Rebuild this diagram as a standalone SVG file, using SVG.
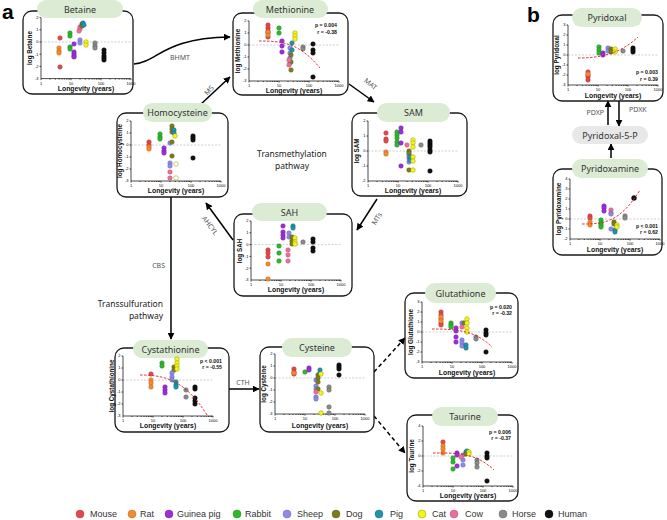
<svg xmlns="http://www.w3.org/2000/svg" xmlns:xlink="http://www.w3.org/1999/xlink" width="667" height="520" viewBox="0 0 667 520">
<style>
.box{fill:#fff;stroke:#1a1a1a;stroke-width:1.3}
.pill{fill:#dcebd4}
.pill5{fill:#e8e8e8}
.pt{font-family:"Noto Sans","Open Sans",sans-serif;font-size:9px;fill:#333;text-anchor:middle}
.ax{stroke:#000;stroke-width:0.7;fill:none}
.zl{stroke:#b0b0b0;stroke-width:0.6;stroke-dasharray:2,1.5;fill:none}
.tk{font-family:"Liberation Sans",Arial,sans-serif;font-size:4px;text-anchor:end;fill:#000}
.xt{font-family:"Liberation Sans",Arial,sans-serif;font-size:4px;text-anchor:middle;fill:#000}
.yl{font-family:"Liberation Sans",Arial,sans-serif;font-weight:bold;font-size:6.3px;text-anchor:middle;fill:#111}
.xl{font-family:"Liberation Sans",Arial,sans-serif;font-weight:bold;font-size:6.8px;text-anchor:middle;fill:#111}
.st{font-family:"Liberation Sans",Arial,sans-serif;font-weight:bold;font-size:5.2px;text-anchor:end;fill:#111}
.fit{stroke:#e02020;stroke-width:0.9;stroke-dasharray:2.5,1.5;fill:none}
.cn{stroke:#000;stroke-width:1.5;fill:none}
.dn{stroke:#000;stroke-width:1.5;fill:none;stroke-dasharray:4,3}
.el{font-family:"Noto Sans","Open Sans",sans-serif;font-size:7px;fill:#555}
.pw{font-family:"Noto Sans","Open Sans",sans-serif;font-size:8.5px;fill:#222}
.lg{font-family:"Liberation Sans",Arial,sans-serif;font-size:9px;fill:#333}
.big{font-family:"Liberation Sans",Arial,sans-serif;font-size:21px;font-weight:bold;fill:#000}
.mo{fill:#e04a4e;stroke:#a83030;stroke-width:0.4}
.ra{fill:#f28a2e;stroke:#b0601a;stroke-width:0.4}
.gp{fill:#9b30d9;stroke:#6a1a9a;stroke-width:0.4}
.rb{fill:#2db82d;stroke:#1a7a1a;stroke-width:0.4}
.sh{fill:#8c8ce6;stroke:#5a5ab0;stroke-width:0.4}
.dg{fill:#7d7d1e;stroke:#555510;stroke-width:0.4}
.pg{fill:#1e95a8;stroke:#126070;stroke-width:0.4}
.ct{fill:#f5f51a;stroke:#9a9a00;stroke-width:0.5}
.co{fill:#e8719a;stroke:#b04a6a;stroke-width:0.4}
.hs{fill:#8a8a8a;stroke:#555;stroke-width:0.4}
.hu{fill:#111;stroke:#000;stroke-width:0.4}
</style>
<defs>
<marker id="ah" viewBox="0 0 10 10" refX="9" refY="5" markerWidth="7" markerHeight="7" markerUnits="userSpaceOnUse" orient="auto"><path d="M0,0L10,5L0,10z" fill="#000"/></marker>
<g id="xax">
<path class="ax" d="M0,0H90M0,0v1.6M30,0v1.6M60,0v1.6M90,0v1.6"/>
<path class="ax" stroke-width="0.5" d="M9,0v1M14.3,0v1M18.1,0v1M21,0v1M23.3,0v1M25.4,0v1M27.1,0v1M28.6,0v1M39,0v1M44.3,0v1M48.1,0v1M51,0v1M53.3,0v1M55.4,0v1M57.1,0v1M58.6,0v1M69,0v1M74.3,0v1M78.1,0v1M81,0v1M83.3,0v1M85.4,0v1M87.1,0v1M88.6,0v1"/>
<text class="xt" x="0" y="6">1</text><text class="xt" x="30" y="6">10</text><text class="xt" x="60" y="6">100</text><text class="xt" x="90" y="6">1000</text>
</g>
</defs>
<rect width="667" height="520" fill="#fff"/>
<text class="big" x="2" y="19">a</text>
<text class="big" x="527" y="22">b</text>

<g id="connectors">
<path class="cn" d="M134,64 C158,62 163,38 230,37" marker-end="url(#ah)"/>
<text class="el" x="180" y="60" text-anchor="middle">BHMT</text>
<path class="cn" d="M200,105 L230,77" marker-end="url(#ah)"/>
<text class="el" transform="translate(211,92) rotate(-48)" text-anchor="middle">MS</text>
<path class="cn" d="M349,84 L374,102" marker-end="url(#ah)"/>
<text class="el" transform="translate(369,86) rotate(38)" text-anchor="middle">MAT</text>
<path class="cn" d="M377,199 L357,230" marker-end="url(#ah)"/>
<text class="el" transform="translate(379,220) rotate(-58)" text-anchor="middle">MTs</text>
<path class="cn" d="M233,240 L206,203" marker-end="url(#ah)"/>
<text class="el" transform="translate(208,227) rotate(54)" text-anchor="middle">AHCYL</text>
<path class="cn" d="M171,197 L171,339" marker-end="url(#ah)"/>
<text class="el" x="165" y="268" text-anchor="end">CBS</text>
<path class="cn" d="M229,389 L259,389" marker-end="url(#ah)"/>
<text class="el" x="243" y="385" text-anchor="middle">CTH</text>
<path class="dn" d="M374,372 L405,338" marker-end="url(#ah)"/>
<path class="dn" d="M374,416 L405,453" marker-end="url(#ah)"/>
<path class="cn" d="M608,125 L608,101" marker-end="url(#ah)"/>
<path class="cn" d="M619,101 L619,126" marker-end="url(#ah)"/>
<text class="el" x="604" y="115" text-anchor="end">PDXP</text>
<text class="el" x="629" y="112">PDXK</text>
<path class="cn" d="M611,158 L611,144" marker-end="url(#ah)"/>
<text class="pw" x="292" y="157" text-anchor="middle">Transmethylation</text>
<text class="pw" x="292" y="169" text-anchor="middle">pathway</text>
<text class="pw" x="163" y="307" text-anchor="end">Transsulfuration</text>
<text class="pw" x="163" y="319" text-anchor="end">pathway</text>
</g>

<g id="betaine">
<rect class="box" x="23" y="11" width="110" height="83" rx="9"/>
<rect class="pill" x="37" y="0" width="86" height="18" rx="9"/>
<text class="pt" x="80" y="12.5">Betaine</text>
<path class="zl" d="M41,42H131"/>
<path class="ax" d="M41,17.6V78.6M39.5,17.6H41M39.5,29.8H41M39.5,42H41M39.5,54.2H41M39.5,66.4H41"/>
<text class="tk" x="38.5" y="19">2</text><text class="tk" x="38.5" y="31.2">1</text><text class="tk" x="38.5" y="43.4">0</text><text class="tk" x="38.5" y="55.6">-1</text><text class="tk" x="38.5" y="67.8">-2</text><text class="tk" x="38.5" y="80">-3</text>
<use xlink:href="#xax" x="41" y="78.6"/>
<text class="xl" x="86" y="91">Longevity (years)</text>
<text class="yl" transform="translate(32,48) rotate(-90)">log Betaine</text>
<circle class="mo" cx="60" cy="38" r="2.3"/><circle class="mo" cx="60" cy="67" r="2.3"/>
<circle class="ra" cx="59" cy="48" r="2.3"/><circle class="ra" cx="59" cy="51" r="2.3"/><circle class="ra" cx="59" cy="53" r="2.3"/>
<circle class="rb" cx="70" cy="33" r="2.3"/><circle class="rb" cx="70" cy="36" r="2.3"/><circle class="rb" cx="70" cy="47" r="2.3"/><circle class="rb" cx="70" cy="49" r="2.3"/>
<circle class="gp" cx="74" cy="44" r="2.3"/><circle class="gp" cx="74" cy="52" r="2.3"/><circle class="gp" cx="74" cy="54" r="2.3"/><circle class="gp" cx="74" cy="56" r="2.3"/><circle class="gp" cx="74" cy="57" r="2.3"/>
<circle class="co" cx="80" cy="27" r="2.3"/><circle class="co" cx="80" cy="29" r="2.3"/><circle class="co" cx="79" cy="31" r="2.3"/>
<circle class="dg" cx="82" cy="24" r="2.3"/><circle class="dg" cx="82" cy="26" r="2.3"/>
<circle class="pg" cx="83" cy="23" r="2.3"/><circle class="pg" cx="84" cy="25" r="2.3"/>
<circle class="sh" cx="80" cy="40" r="2.3"/><circle class="sh" cx="80" cy="43" r="2.3"/>
<circle class="ct" cx="86" cy="42" r="2.3"/><circle class="ct" cx="86" cy="45" r="2.3"/>
<circle class="hs" cx="95" cy="43" r="2.3"/><circle class="hs" cx="95" cy="46" r="2.3"/><circle class="hs" cx="95" cy="48" r="2.3"/>
<circle class="hu" cx="104" cy="50" r="2.3"/><circle class="hu" cx="104" cy="53" r="2.3"/><circle class="hu" cx="104" cy="56" r="2.3"/><circle class="hu" cx="104" cy="58" r="2.3"/><circle class="hu" cx="104" cy="60" r="2.3"/>
</g>

<g id="methionine">
<rect class="box" x="233" y="13" width="115" height="82" rx="9"/>
<rect class="pill" x="253" y="0" width="75" height="18" rx="9"/>
<text class="pt" x="290" y="12.5">Methionine</text>
<path class="zl" d="M249,45H339"/>
<path class="ax" d="M249,21V81M247.5,21H249M247.5,33H249M247.5,45H249M247.5,57H249M247.5,69H249"/>
<text class="tk" x="246.5" y="22.4">2</text><text class="tk" x="246.5" y="34.4">1</text><text class="tk" x="246.5" y="46.4">0</text><text class="tk" x="246.5" y="58.4">-1</text><text class="tk" x="246.5" y="70.4">-2</text><text class="tk" x="246.5" y="82.4">-3</text>
<use xlink:href="#xax" x="249" y="81"/>
<text class="xl" x="294" y="93">Longevity (years)</text>
<text class="yl" transform="translate(240,51) rotate(-90)">log Methionine</text>
<text class="st" x="337" y="27">p = 0.004</text><text class="st" x="337" y="34">r = -0.38</text>
<circle class="mo" cx="268" cy="25" r="2.3"/><circle class="mo" cx="268" cy="28" r="2.3"/><circle class="mo" cx="268" cy="31" r="2.3"/><circle class="mo" cx="268" cy="33" r="2.3"/><circle class="mo" cx="268" cy="37" r="2.3"/>
<circle class="ra" cx="268" cy="32" r="2.3"/><circle class="ra" cx="268" cy="35" r="2.3"/>
<circle class="rb" cx="279" cy="28" r="2.3"/><circle class="rb" cx="279" cy="33" r="2.3"/>
<circle class="gp" cx="282" cy="41" r="2.3"/><circle class="gp" cx="282" cy="46" r="2.3"/><circle class="gp" cx="282" cy="52" r="2.3"/>
<circle class="sh" cx="290" cy="48" r="2.3"/><circle class="sh" cx="290" cy="53" r="2.3"/><circle class="sh" cx="290" cy="58" r="2.3"/><circle class="sh" cx="290" cy="63" r="2.3"/>
<circle class="dg" cx="291" cy="55" r="2.3"/><circle class="dg" cx="291" cy="62" r="2.3"/><circle class="dg" cx="291" cy="70" r="2.3"/>
<circle class="pg" cx="292" cy="43" r="2.3"/><circle class="pg" cx="292" cy="50" r="2.3"/>
<circle class="ct" cx="295" cy="33" r="2.3"/><circle class="ct" cx="295" cy="36" r="2.3"/><circle class="ct" cx="295" cy="39" r="2.3"/>
<circle class="co" cx="289" cy="60" r="2.3"/><circle class="co" cx="289" cy="65" r="2.3"/>
<circle class="hs" cx="303" cy="47" r="2.3"/><circle class="hs" cx="303" cy="49" r="2.3"/>
<circle class="hu" cx="313" cy="44" r="2.3"/><circle class="hu" cx="313" cy="50" r="2.3"/><circle class="hu" cx="313" cy="53" r="2.3"/><circle class="hu" cx="313" cy="77" r="2.3"/>
<path class="fit" d="M259,41 C285,41 300,44 320,68"/>
</g>

<g id="homocysteine">
<rect class="box" x="117" y="113" width="111" height="84" rx="9"/>
<rect class="pill" x="143" y="103" width="69" height="19" rx="9.5"/>
<text class="pt" x="177.5" y="116">Homocysteine</text>
<path class="zl" d="M131,145H221"/>
<path class="ax" d="M131,121V181M129.5,121H131M129.5,133H131M129.5,145H131M129.5,157H131M129.5,169H131"/>
<text class="tk" x="128.5" y="122.4">2</text><text class="tk" x="128.5" y="134.4">1</text><text class="tk" x="128.5" y="146.4">0</text><text class="tk" x="128.5" y="158.4">-1</text><text class="tk" x="128.5" y="170.4">-2</text><text class="tk" x="128.5" y="182.4">-3</text>
<use xlink:href="#xax" x="131" y="181"/>
<text class="xl" x="176" y="193">Longevity (years)</text>
<text class="yl" transform="translate(122,151) rotate(-90)">log Homocysteine</text>
<circle class="mo" cx="149" cy="142" r="2.3"/><circle class="mo" cx="149" cy="145" r="2.3"/>
<circle class="ra" cx="149" cy="147" r="2.3"/><circle class="ra" cx="149" cy="149" r="2.3"/>
<circle class="rb" cx="160" cy="134" r="2.3"/><circle class="rb" cx="160" cy="137" r="2.3"/><circle class="rb" cx="160" cy="139" r="2.3"/>
<circle class="gp" cx="164" cy="148" r="2.3"/><circle class="gp" cx="164" cy="151" r="2.3"/><circle class="gp" cx="164" cy="153" r="2.3"/>
<circle class="sh" cx="170" cy="143" r="2.3"/><circle class="sh" cx="170" cy="163" r="2.3"/><circle class="sh" cx="170" cy="166" r="2.3"/>
<circle class="dg" cx="172" cy="126" r="2.3"/><circle class="dg" cx="172" cy="129" r="2.3"/><circle class="dg" cx="172" cy="132" r="2.3"/><circle class="dg" cx="172" cy="142" r="2.3"/><circle class="dg" cx="172" cy="156" r="2.3"/>
<circle class="pg" cx="174" cy="130" r="2.3"/><circle class="pg" cx="174" cy="133" r="2.3"/>
<circle class="ct" cx="175" cy="136" r="2.3"/><circle class="ct" cx="176" cy="164" r="2.3" style="fill:#fff"/><circle class="ct" cx="176" cy="178" r="2.3" style="fill:#fff"/>
<circle class="co" cx="170" cy="172" r="2.3"/><circle class="co" cx="170" cy="178" r="2.3"/>
<circle class="hu" cx="193" cy="136" r="2.3"/><circle class="hu" cx="193" cy="138" r="2.3"/><circle class="hu" cx="193" cy="140" r="2.3"/><circle class="hu" cx="193" cy="158" r="2.3"/>
</g>

<g id="sam">
<rect class="box" x="352" y="113" width="115" height="83" rx="9"/>
<rect class="pill" x="377" y="103" width="73" height="19" rx="9.5"/>
<text class="pt" x="413.5" y="116">SAM</text>
<path class="zl" d="M368,151H458"/>
<path class="ax" d="M368,121V181M366.5,121H368M366.5,136H368M366.5,151H368M366.5,166H368"/>
<text class="tk" x="365.5" y="122.4">2</text><text class="tk" x="365.5" y="137.4">1</text><text class="tk" x="365.5" y="152.4">0</text><text class="tk" x="365.5" y="167.4">-1</text><text class="tk" x="365.5" y="182.4">-2</text>
<use xlink:href="#xax" x="368" y="181"/>
<text class="xl" x="413" y="193">Longevity (years)</text>
<text class="yl" transform="translate(359,151) rotate(-90)">log SAM</text>
<circle class="mo" cx="386" cy="133" r="2.3"/><circle class="mo" cx="386" cy="139" r="2.3"/><circle class="mo" cx="386" cy="141" r="2.3"/>
<circle class="ra" cx="386" cy="152" r="2.3"/><circle class="ra" cx="386" cy="154" r="2.3"/>
<circle class="rb" cx="397" cy="132" r="2.3"/><circle class="rb" cx="397" cy="135" r="2.3"/><circle class="rb" cx="397" cy="138" r="2.3"/><circle class="rb" cx="397" cy="142" r="2.3"/><circle class="rb" cx="397" cy="145" r="2.3"/>
<circle class="gp" cx="401" cy="128" r="2.3"/><circle class="gp" cx="401" cy="132" r="2.3"/><circle class="gp" cx="401" cy="143" r="2.3"/><circle class="gp" cx="401" cy="166" r="2.3"/>
<circle class="co" cx="407" cy="145" r="2.3"/>
<circle class="sh" cx="409" cy="155" r="2.3"/><circle class="sh" cx="409" cy="158" r="2.3"/><circle class="sh" cx="409" cy="162" r="2.3"/>
<circle class="dg" cx="409" cy="151" r="2.3"/><circle class="dg" cx="409" cy="153" r="2.3"/><circle class="dg" cx="409" cy="170" r="2.3"/>
<circle class="pg" cx="410" cy="157" r="2.3"/><circle class="pg" cx="410" cy="160" r="2.3"/>
<circle class="ct" cx="413" cy="140" r="2.3"/><circle class="ct" cx="413" cy="143" r="2.3"/><circle class="ct" cx="413" cy="147" r="2.3"/><circle class="ct" cx="413" cy="157" r="2.3"/><circle class="ct" cx="413" cy="161" r="2.3"/><circle class="ct" cx="413" cy="170" r="2.3"/>
<circle class="hs" cx="421" cy="145" r="2.3"/>
<circle class="hu" cx="430" cy="141" r="2.3"/><circle class="hu" cx="430" cy="143" r="2.3"/><circle class="hu" cx="430" cy="145" r="2.3"/><circle class="hu" cx="430" cy="147" r="2.3"/><circle class="hu" cx="430" cy="150" r="2.3"/><circle class="hu" cx="430" cy="152" r="2.3"/><circle class="hu" cx="430" cy="171" r="2.3"/>
</g>

<g id="sah">
<rect class="box" x="234" y="214" width="118" height="82" rx="9"/>
<rect class="pill" x="252" y="203" width="75" height="18" rx="9"/>
<text class="pt" x="289.5" y="215.5">SAH</text>
<path class="zl" d="M251,244.6H341"/>
<path class="ax" d="M251,221V280M249.5,221H251M249.5,232.8H251M249.5,244.6H251M249.5,256.4H251M249.5,268.2H251"/>
<text class="tk" x="248.5" y="222.4">2</text><text class="tk" x="248.5" y="234.2">1</text><text class="tk" x="248.5" y="246">0</text><text class="tk" x="248.5" y="257.8">-1</text><text class="tk" x="248.5" y="269.6">-2</text><text class="tk" x="248.5" y="281.4">-3</text>
<use xlink:href="#xax" x="251" y="280"/>
<text class="xl" x="296" y="292">Longevity (years)</text>
<text class="yl" transform="translate(242,251) rotate(-90)">log SAH</text>
<circle class="mo" cx="268" cy="250" r="2.3"/><circle class="mo" cx="268" cy="253" r="2.3"/><circle class="mo" cx="268" cy="257" r="2.3"/>
<circle class="ra" cx="268" cy="264" r="2.3"/><circle class="ra" cx="268" cy="279" r="2.3"/>
<circle class="rb" cx="279" cy="246" r="2.3"/><circle class="rb" cx="279" cy="253" r="2.3"/><circle class="rb" cx="279" cy="261" r="2.3"/>
<circle class="gp" cx="283" cy="226" r="2.3"/><circle class="gp" cx="283" cy="232" r="2.3"/><circle class="gp" cx="283" cy="235" r="2.3"/><circle class="gp" cx="283" cy="238" r="2.3"/>
<circle class="sh" cx="289" cy="233" r="2.3"/><circle class="sh" cx="289" cy="237" r="2.3"/>
<circle class="pg" cx="293" cy="226" r="2.3"/><circle class="pg" cx="293" cy="228" r="2.3"/>
<circle class="co" cx="288" cy="250" r="2.3"/><circle class="co" cx="288" cy="255" r="2.3"/><circle class="co" cx="288" cy="261" r="2.3"/>
<circle class="dg" cx="292" cy="237" r="2.3"/><circle class="dg" cx="292" cy="241" r="2.3"/><circle class="dg" cx="292" cy="244" r="2.3"/>
<circle class="ct" cx="295" cy="238" r="2.3"/><circle class="ct" cx="295" cy="242" r="2.3"/><circle class="ct" cx="295" cy="244" r="2.3"/>
<circle class="hs" cx="303" cy="242" r="2.3"/>
<circle class="hu" cx="313" cy="239" r="2.3"/><circle class="hu" cx="313" cy="242" r="2.3"/><circle class="hu" cx="313" cy="248" r="2.3"/><circle class="hu" cx="313" cy="251" r="2.3"/>
</g>

<g id="pyridoxal">
<rect class="box" x="553" y="15" width="110" height="86" rx="9"/>
<rect class="pill" x="572" y="8" width="70" height="19" rx="9.5"/>
<text class="pt" x="607" y="21">Pyridoxal</text>
<path class="zl" d="M568,55H658"/>
<path class="ax" d="M568,25V85M566.5,25H568M566.5,35H568M566.5,45H568M566.5,55H568M566.5,65H568M566.5,75H568"/>
<text class="tk" x="565.5" y="26.4">3</text><text class="tk" x="565.5" y="36.4">2</text><text class="tk" x="565.5" y="46.4">1</text><text class="tk" x="565.5" y="56.4">0</text><text class="tk" x="565.5" y="66.4">-1</text><text class="tk" x="565.5" y="76.4">-2</text><text class="tk" x="565.5" y="86.4">-3</text>
<use xlink:href="#xax" x="568" y="85"/>
<text class="xl" x="613" y="97.5">Longevity (years)</text>
<text class="yl" transform="translate(559,55) rotate(-90)">log Pyridoxal</text>
<text class="st" x="658" y="73.5">p = 0.003</text><text class="st" x="658" y="80.5">r = 0.39</text>
<circle class="mo" cx="588" cy="72" r="2.3"/><circle class="mo" cx="588" cy="75" r="2.3"/><circle class="mo" cx="588" cy="77" r="2.3"/><circle class="mo" cx="588" cy="80" r="2.3"/>
<circle class="ra" cx="588" cy="74" r="2.3"/>
<circle class="rb" cx="599" cy="47" r="2.3"/><circle class="rb" cx="599" cy="50" r="2.3"/><circle class="rb" cx="599" cy="53" r="2.3"/>
<circle class="gp" cx="603" cy="53" r="2.3"/><circle class="gp" cx="603" cy="55" r="2.3"/>
<circle class="sh" cx="608" cy="48" r="2.3"/><circle class="sh" cx="608" cy="51" r="2.3"/>
<circle class="dg" cx="611" cy="49" r="2.3"/><circle class="dg" cx="611" cy="52" r="2.3"/>
<circle class="ct" cx="615" cy="49" r="2.3"/><circle class="ct" cx="615" cy="52" r="2.3"/>
<circle class="hs" cx="623" cy="51" r="2.3"/>
<circle class="hu" cx="633" cy="48" r="2.3"/><circle class="hu" cx="633" cy="50" r="2.3"/><circle class="hu" cx="633" cy="52" r="2.3"/>
<path class="fit" d="M578,58 C600,58 620,54 638,37"/>
</g>

<g id="pyridoxal5p">
<rect class="pill5" x="572" y="126" width="76" height="18" rx="9"/>
<text class="pt" x="610" y="138.5">Pyridoxal-5-P</text>
</g>

<g id="pyridoxamine">
<rect class="box" x="553" y="169" width="109" height="86" rx="9"/>
<rect class="pill" x="572" y="159" width="76" height="19" rx="9.5"/>
<text class="pt" x="610" y="172">Pyridoxamine</text>
<path class="zl" d="M570,219H660"/>
<path class="ax" d="M570,179V239M568.5,179H570M568.5,189H570M568.5,199H570M568.5,209H570M568.5,219H570M568.5,229H570"/>
<text class="tk" x="567.5" y="180.4">4</text><text class="tk" x="567.5" y="190.4">3</text><text class="tk" x="567.5" y="200.4">2</text><text class="tk" x="567.5" y="210.4">1</text><text class="tk" x="567.5" y="220.4">0</text><text class="tk" x="567.5" y="230.4">-1</text><text class="tk" x="567.5" y="240.4">-2</text>
<use xlink:href="#xax" x="570" y="239"/>
<text class="xl" x="615" y="251.5">Longevity (years)</text>
<text class="yl" transform="translate(561,209) rotate(-90)">log Pyridoxamine</text>
<text class="st" x="658" y="227.5">p &lt; 0.001</text><text class="st" x="658" y="234">r = 0.62</text>
<circle class="mo" cx="590" cy="216" r="2.3"/><circle class="mo" cx="590" cy="218" r="2.3"/>
<circle class="ra" cx="590" cy="222" r="2.3"/><circle class="ra" cx="590" cy="225" r="2.3"/>
<circle class="rb" cx="601" cy="220" r="2.3"/><circle class="rb" cx="601" cy="223" r="2.3"/><circle class="rb" cx="601" cy="225" r="2.3"/><circle class="rb" cx="601" cy="227" r="2.3"/>
<circle class="gp" cx="604" cy="206" r="2.3"/><circle class="gp" cx="604" cy="208" r="2.3"/><circle class="gp" cx="604" cy="211" r="2.3"/>
<circle class="co" cx="611" cy="210" r="2.3"/><circle class="co" cx="611" cy="213" r="2.3"/><circle class="sh" cx="611" cy="214" r="2.3"/>
<circle class="sh" cx="611" cy="229" r="2.3"/>
<circle class="dg" cx="614" cy="222" r="2.3"/><circle class="dg" cx="614" cy="224" r="2.3"/>
<circle class="pg" cx="615" cy="230" r="2.3"/><circle class="pg" cx="615" cy="232" r="2.3"/>
<circle class="ct" cx="617" cy="225" r="2.3"/><circle class="ct" cx="617" cy="227" r="2.3"/>
<circle class="hs" cx="625" cy="216" r="2.3"/><circle class="hs" cx="625" cy="218" r="2.3"/>
<circle class="hu" cx="634" cy="198" r="2.5"/>
<path class="fit" d="M582,224 C605,224 620,222 640,190"/>
</g>

<g id="cystathionine">
<rect class="box" x="115" y="348" width="114" height="84" rx="9"/>
<rect class="pill" x="133" y="340" width="75" height="18" rx="9"/>
<text class="pt" x="170.5" y="352.5">Cystathionine</text>
<path class="zl" d="M123,380H213"/>
<path class="ax" d="M123,356V416M121.5,356H123M121.5,368H123M121.5,380H123M121.5,392H123M121.5,404H123"/>
<text class="tk" x="120.5" y="357.4">2</text><text class="tk" x="120.5" y="369.4">1</text><text class="tk" x="120.5" y="381.4">0</text><text class="tk" x="120.5" y="393.4">-1</text><text class="tk" x="120.5" y="405.4">-2</text><text class="tk" x="120.5" y="417.4">-3</text>
<use xlink:href="#xax" x="123" y="416"/>
<text class="xl" x="168" y="428">Longevity (years)</text>
<text class="yl" transform="translate(114,386) rotate(-90)">log Cystathionine</text>
<text class="st" x="222" y="362.5">p &lt; 0.001</text><text class="st" x="222" y="369">r = -0.55</text>
<circle class="mo" cx="151" cy="374" r="2.3"/>
<circle class="ra" cx="151" cy="380" r="2.3"/><circle class="ra" cx="151" cy="383" r="2.3"/><circle class="ra" cx="151" cy="387" r="2.3"/>
<circle class="rb" cx="162" cy="363" r="2.3"/><circle class="rb" cx="162" cy="366" r="2.3"/>
<circle class="gp" cx="165" cy="387" r="2.3"/><circle class="gp" cx="165" cy="390" r="2.3"/><circle class="gp" cx="165" cy="393" r="2.3"/>
<circle class="dg" cx="174" cy="367" r="2.3"/><circle class="dg" cx="174" cy="370" r="2.3"/>
<circle class="ct" cx="177" cy="359" r="2.3"/><circle class="ct" cx="177" cy="363" r="2.3"/><circle class="ct" cx="177" cy="366" r="2.3"/><circle class="ct" cx="177" cy="369" r="2.3"/>
<circle class="sh" cx="172" cy="373" r="2.3"/><circle class="sh" cx="172" cy="377" r="2.3"/><circle class="sh" cx="172" cy="380" r="2.3"/>
<circle class="pg" cx="176" cy="382" r="2.3"/><circle class="pg" cx="176" cy="385" r="2.3"/><circle class="pg" cx="176" cy="387" r="2.3"/>
<circle class="hs" cx="186" cy="390" r="2.3"/><circle class="hs" cx="186" cy="397" r="2.3"/>
<circle class="hu" cx="195" cy="387" r="2.3"/><circle class="hu" cx="195" cy="389" r="2.3"/><circle class="hu" cx="195" cy="398" r="2.3"/><circle class="hu" cx="195" cy="401" r="2.3"/><circle class="hu" cx="195" cy="404" r="2.3"/>
<path class="fit" d="M140,375 C165,375 185,380 207,415"/>
</g>

<g id="cysteine">
<rect class="box" x="260" y="347" width="114" height="85" rx="9"/>
<rect class="pill" x="282" y="338" width="70" height="19" rx="9.5"/>
<text class="pt" x="317" y="351">Cysteine</text>
<path class="zl" d="M275,378H365"/>
<path class="ax" d="M275,354V414M273.5,354H275M273.5,366H275M273.5,378H275M273.5,390H275M273.5,402H275"/>
<text class="tk" x="272.5" y="355.4">2</text><text class="tk" x="272.5" y="367.4">1</text><text class="tk" x="272.5" y="379.4">0</text><text class="tk" x="272.5" y="391.4">-1</text><text class="tk" x="272.5" y="403.4">-2</text><text class="tk" x="272.5" y="415.4">-3</text>
<use xlink:href="#xax" x="275" y="414"/>
<text class="xl" x="320" y="427.5">Longevity (years)</text>
<text class="yl" transform="translate(266,384) rotate(-90)">log Cysteine</text>
<circle class="mo" cx="294" cy="369" r="2.3"/><circle class="mo" cx="294" cy="372" r="2.3"/><circle class="mo" cx="294" cy="374" r="2.3"/>
<circle class="ra" cx="294" cy="373" r="2.3"/>
<circle class="rb" cx="305" cy="372" r="2.3"/>
<circle class="gp" cx="309" cy="368" r="2.3"/><circle class="gp" cx="309" cy="370" r="2.3"/>
<circle class="sh" cx="316" cy="380" r="2.3"/><circle class="sh" cx="316" cy="386" r="2.3"/><circle class="sh" cx="316" cy="389" r="2.3"/><circle class="sh" cx="316" cy="397" r="2.3"/><circle class="sh" cx="316" cy="399" r="2.3"/>
<circle class="dg" cx="318" cy="375" r="2.3"/><circle class="dg" cx="318" cy="378" r="2.3"/><circle class="dg" cx="318" cy="382" r="2.3"/><circle class="dg" cx="318" cy="389" r="2.3"/>
<circle class="pg" cx="320" cy="370" r="2.3"/><circle class="pg" cx="320" cy="373" r="2.3"/>
<circle class="ct" cx="321" cy="374" r="2.3"/><circle class="ct" cx="321" cy="393" r="2.3"/><circle class="ct" cx="321" cy="413" r="2.3"/>
<circle class="co" cx="316" cy="392" r="2.3"/>
<circle class="hs" cx="329" cy="387" r="2.3"/><circle class="hs" cx="329" cy="390" r="2.3"/><circle class="hs" cx="329" cy="407" r="2.3"/><circle class="hs" cx="329" cy="413" r="2.3"/>
<circle class="hu" cx="339" cy="365" r="2.3"/><circle class="hu" cx="339" cy="367" r="2.3"/><circle class="hu" cx="339" cy="369" r="2.3"/><circle class="hu" cx="339" cy="375" r="2.3"/>
</g>

<g id="glutathione">
<rect class="box" x="405" y="293" width="113" height="85" rx="9"/>
<rect class="pill" x="425" y="283" width="71" height="20" rx="10"/>
<text class="pt" x="460.5" y="296.5">Glutathione</text>
<path class="zl" d="M422,332H512"/>
<path class="ax" d="M422,302V362M420.5,302H422M420.5,312H422M420.5,322H422M420.5,332H422M420.5,342H422M420.5,352H422"/>
<text class="tk" x="419.5" y="303.4">3</text><text class="tk" x="419.5" y="313.4">2</text><text class="tk" x="419.5" y="323.4">1</text><text class="tk" x="419.5" y="333.4">0</text><text class="tk" x="419.5" y="343.4">-1</text><text class="tk" x="419.5" y="353.4">-2</text><text class="tk" x="419.5" y="363.4">-3</text>
<use xlink:href="#xax" x="422" y="362"/>
<text class="xl" x="467" y="375">Longevity (years)</text>
<text class="yl" transform="translate(413,332) rotate(-90)">log Glutathione</text>
<text class="st" x="512" y="308.5">p = 0.020</text><text class="st" x="512" y="315">r = -0.32</text>
<circle class="mo" cx="441" cy="312" r="2.3"/><circle class="mo" cx="441" cy="315" r="2.3"/><circle class="mo" cx="441" cy="319" r="2.3"/><circle class="mo" cx="441" cy="323" r="2.3"/><circle class="mo" cx="441" cy="325" r="2.3"/>
<circle class="ra" cx="441" cy="317" r="2.3"/><circle class="ra" cx="441" cy="321" r="2.3"/>
<circle class="rb" cx="451" cy="323" r="2.3"/><circle class="rb" cx="451" cy="325" r="2.3"/><circle class="rb" cx="451" cy="327" r="2.3"/>
<circle class="gp" cx="456" cy="328" r="2.3"/><circle class="gp" cx="456" cy="331" r="2.3"/><circle class="gp" cx="456" cy="337" r="2.3"/><circle class="gp" cx="456" cy="342" r="2.3"/>
<circle class="sh" cx="462" cy="323" r="2.3"/><circle class="sh" cx="462" cy="340" r="2.3"/><circle class="sh" cx="462" cy="343" r="2.3"/><circle class="sh" cx="462" cy="346" r="2.3"/>
<circle class="pg" cx="466" cy="345" r="2.3"/><circle class="pg" cx="466" cy="348" r="2.3"/>
<circle class="dg" cx="464" cy="323" r="2.3"/>
<circle class="ct" cx="467" cy="319" r="2.3"/><circle class="ct" cx="467" cy="323" r="2.3"/><circle class="ct" cx="467" cy="328" r="2.3"/><circle class="ct" cx="467" cy="332" r="2.3"/>
<circle class="co" cx="462" cy="327" r="2.3"/>
<circle class="hs" cx="476" cy="337" r="2.3"/><circle class="hs" cx="476" cy="339" r="2.3"/>
<circle class="hu" cx="486" cy="330" r="2.3"/><circle class="hu" cx="486" cy="333" r="2.3"/><circle class="hu" cx="486" cy="335" r="2.3"/><circle class="hu" cx="486" cy="352" r="2.3"/>
<path class="fit" d="M432,329 C455,329 475,330 492,347"/>
</g>

<g id="taurine">
<rect class="box" x="407" y="415" width="111" height="86" rx="9"/>
<rect class="pill" x="432" y="407" width="66" height="19" rx="9.5"/>
<text class="pt" x="465" y="420">Taurine</text>
<path class="zl" d="M423,456H513"/>
<path class="ax" d="M423,426V486M421.5,426H423M421.5,441H423M421.5,456H423M421.5,471H423"/>
<text class="tk" x="420.5" y="427.4">4</text><text class="tk" x="420.5" y="442.4">2</text><text class="tk" x="420.5" y="457.4">0</text><text class="tk" x="420.5" y="472.4">-2</text><text class="tk" x="420.5" y="487.4">-4</text>
<use xlink:href="#xax" x="423" y="486"/>
<text class="xl" x="468" y="498">Longevity (years)</text>
<text class="yl" transform="translate(414,456) rotate(-90)">log Taurine</text>
<text class="st" x="511" y="433.5">p = 0.006</text><text class="st" x="511" y="440">r = -0.37</text>
<circle class="mo" cx="443" cy="442" r="2.3"/>
<circle class="ra" cx="443" cy="446" r="2.3"/><circle class="ra" cx="443" cy="449" r="2.3"/><circle class="ra" cx="443" cy="453" r="2.3"/>
<circle class="rb" cx="453" cy="458" r="2.3"/><circle class="rb" cx="453" cy="462" r="2.3"/><circle class="rb" cx="453" cy="469" r="2.3"/>
<circle class="gp" cx="457" cy="453" r="2.3"/><circle class="gp" cx="457" cy="455" r="2.3"/><circle class="gp" cx="457" cy="466" r="2.3"/>
<circle class="sh" cx="463" cy="455" r="2.3"/><circle class="sh" cx="463" cy="460" r="2.3"/><circle class="sh" cx="463" cy="465" r="2.3"/>
<circle class="dg" cx="466" cy="452" r="2.3"/><circle class="dg" cx="466" cy="454" r="2.3"/>
<circle class="pg" cx="467" cy="451" r="2.3"/>
<circle class="ct" cx="469" cy="452" r="2.3"/><circle class="ct" cx="469" cy="454" r="2.3"/>
<circle class="co" cx="461" cy="457" r="2.3"/>
<circle class="hs" cx="477" cy="460" r="2.3"/><circle class="hs" cx="477" cy="463" r="2.3"/><circle class="hs" cx="477" cy="467" r="2.3"/>
<circle class="hu" cx="487" cy="453" r="2.3"/><circle class="hu" cx="487" cy="456" r="2.3"/><circle class="hu" cx="487" cy="458" r="2.3"/><circle class="hu" cx="487" cy="481" r="2.3"/>
<path class="fit" d="M433,453 C455,453 475,452 494,470"/>
</g>

<g id="legend">
<circle class="mo" cx="80" cy="514" r="4"/><text class="lg" x="90" y="517">Mouse</text>
<circle class="ra" cx="132" cy="514" r="4"/><text class="lg" x="140" y="517">Rat</text>
<circle class="gp" cx="169" cy="514" r="4"/><text class="lg" x="177" y="517">Guinea pig</text>
<circle class="rb" cx="237" cy="514" r="4"/><text class="lg" x="245" y="517">Rabbit</text>
<circle class="sh" cx="287" cy="514" r="4"/><text class="lg" x="297" y="517">Sheep</text>
<circle class="dg" cx="336" cy="514" r="4"/><text class="lg" x="346" y="517">Dog</text>
<circle class="pg" cx="379" cy="514" r="4"/><text class="lg" x="390" y="517">Pig</text>
<circle class="ct" cx="422" cy="514" r="4"/><text class="lg" x="432" y="517">Cat</text>
<circle class="co" cx="454" cy="514" r="4"/><text class="lg" x="465" y="517">Cow</text>
<circle class="hs" cx="503" cy="514" r="4"/><text class="lg" x="512" y="517">Horse</text>
<circle class="hu" cx="549" cy="514" r="4"/><text class="lg" x="558" y="517">Human</text>
</g>
</svg>
